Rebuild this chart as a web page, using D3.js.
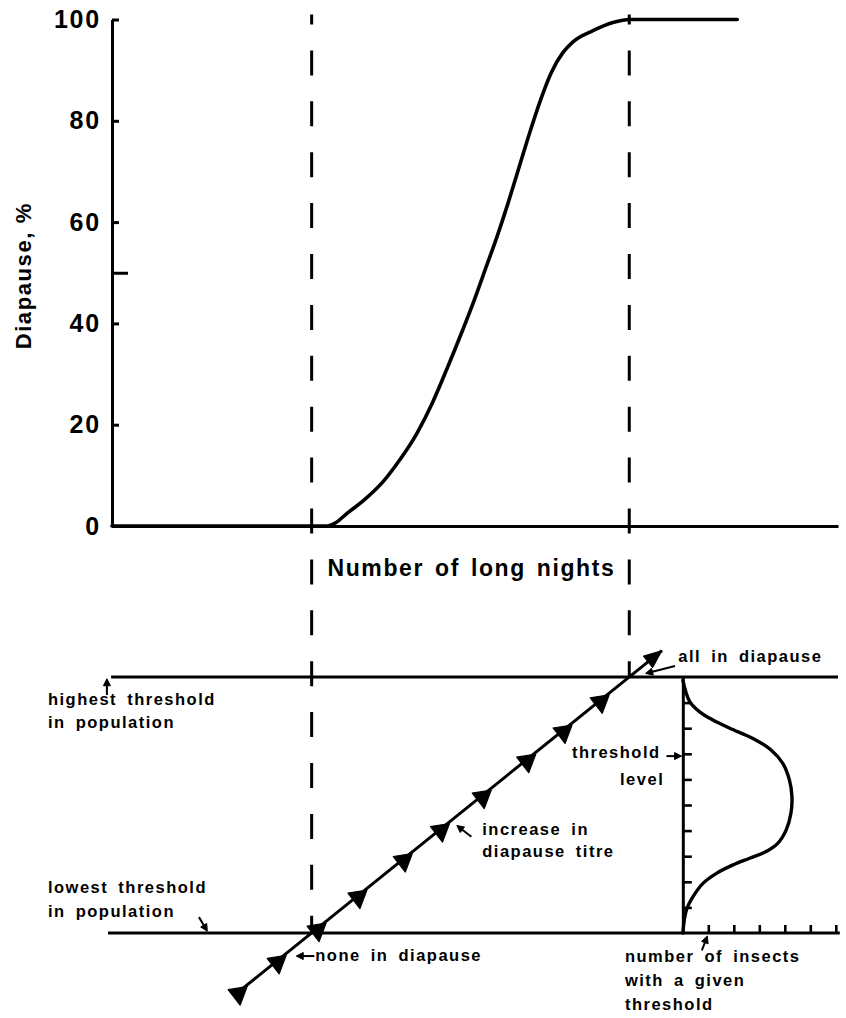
<!DOCTYPE html>
<html>
<head>
<meta charset="utf-8">
<script src="https://cdn.jsdelivr.net/npm/d3@7/dist/d3.min.js"></script>
<style>
  html, body { margin: 0; padding: 0; background: #fff; }
  svg { display: block; }
  text { font-family: "Liberation Sans", Arial, Helvetica, sans-serif; font-weight: bold; fill: #000; }
</style>
</head>
<body>
<svg id="chart" width="846" height="1018"></svg>
<script>
// ---- Upper panel: cumulative diapause response ----
const nights = [0, 11.0, 11.85, 12.3, 12.95, 13.85, 14.9, 15.6, 16.8, 17.65, 18.45, 19.3, 20.0,
                20.6, 21.2, 21.8, 22.4, 23.0, 23.6, 24.2, 24.85, 25.4, 26.5, 27.6, 28.55, 34.45];
const diapausePct = [0, 0, 0, 0.6, 2.5, 5.0, 8.6, 11.8, 18.3, 24.3, 31.0, 38.5, 45.0,
                     51.0, 57.0, 63.5, 70.5, 77.5, 84.0, 89.5, 93.5, 95.6, 97.8, 99.4, 100, 100];
const pctTicks = [0, 20, 40, 60, 80, 100];
const midTick = [50];

// nights at which the first insects enter diapause and all are in diapause
const onsetNights = 11.0;
const completeNights = 28.5;

// ---- Lower panel: diapause titre rising through the threshold distribution ----
const titreNights = [6.9, 30.3];
const titreLevel = [-2.34, 11.03];
const titreMarkNights = [6.95, 9.1, 11.3, 13.55, 16.05, 18.1, 20.4, 22.85, 24.85, 26.9];
const titreMarkLevel = [-2.31, -1.09, 0.17, 1.46, 2.89, 4.06, 5.37, 6.77, 7.91, 9.09];

// frequency distribution of thresholds in the population
const thresholdLevel = [0, 0.9, 1.42, 1.94, 2.33, 2.66, 2.92, 3.18, 3.5, 4.02, 4.68, 5.32, 5.98,
                        6.63, 7.15, 7.6, 8.0, 8.32, 8.64, 9.04, 9.88];
const insectCount = [0, 0.14, 0.40, 0.79, 1.32, 1.97, 2.62, 3.27, 3.72, 4.05, 4.24, 4.28, 4.18,
                     3.92, 3.46, 2.75, 1.84, 1.18, 0.66, 0.27, 0];
const levelTicks = [1, 2, 3, 4, 5, 6, 7, 8, 9];
const countTicks = [1, 2, 3, 4, 5, 6];
const distAxisNights = 31.45;

const svg = d3.select("#chart");

const x = d3.scaleLinear().domain([0, 40]).range([112, 838]);
const yPct = d3.scaleLinear().domain([0, 100]).range([526, 19.5]);
const yLevel = d3.scaleLinear().domain([0, 10]).range([933, 677]);
const xCount = d3.scaleLinear().domain([0, 6]).range([x(distAxisNights), x(distAxisNights) + 6 * 25.5]);

const STROKE = 3;

// ---- dashed guide lines ----
function dashed(n, yTop, yBottom) {
  svg.append("line")
    .attr("x1", x(n)).attr("x2", x(n))
    .attr("y1", yTop).attr("y2", yBottom)
    .attr("stroke", "#000").attr("stroke-width", STROKE)
    .attr("stroke-dasharray", "25 25.9")
    .attr("stroke-dashoffset", 15);
}
dashed(onsetNights, yPct(100) - 5, yLevel(0));
dashed(completeNights, yPct(100) - 5, yLevel(10));

// ---- upper axes ----
const yAxis = svg.append("g")
  .attr("transform", `translate(${x(0)},0)`)
  .call(d3.axisLeft(yPct).tickValues(pctTicks).tickSizeInner(-7).tickSizeOuter(0).tickPadding(11));
yAxis.select(".domain").attr("stroke-width", STROKE);
yAxis.selectAll(".tick line").attr("stroke-width", STROKE);
yAxis.selectAll(".tick text")
  .attr("font-size", 25).attr("letter-spacing", "1.8px")
  .attr("font-family", "Liberation Sans, Arial, sans-serif").attr("font-weight", "bold");

const midAxis = svg.append("g")
  .attr("transform", `translate(${x(0)},0)`)
  .call(d3.axisLeft(yPct).tickValues(midTick).tickSizeInner(-16).tickSizeOuter(0).tickFormat(""));
midAxis.select(".domain").remove();
midAxis.selectAll(".tick line").attr("stroke-width", STROKE);

const xAxis = svg.append("g")
  .attr("transform", `translate(0,${yPct(0)})`)
  .call(d3.axisBottom(x).tickValues([]).tickSizeOuter(0));
xAxis.select(".domain").attr("stroke-width", STROKE);

svg.append("text")
  .attr("transform", `translate(31,${(yPct(0) + yPct(100)) / 2 + 3}) rotate(-90)`)
  .attr("text-anchor", "middle")
  .attr("font-size", 22).attr("letter-spacing", "1.6px")
  .text("Diapause, %");

svg.append("text")
  .attr("x", (x(onsetNights) + x(completeNights)) / 2 + 1)
  .attr("y", 576)
  .attr("text-anchor", "middle")
  .attr("font-size", 23).attr("letter-spacing", "1.6px").attr("word-spacing", "3px")
  .text("Number of long nights");

// ---- response curve ----
const curve = d3.line()
  .x((d, i) => x(nights[i]))
  .y((d, i) => yPct(diapausePct[i]))
  .curve(d3.curveMonotoneX);
svg.append("path")
  .attr("d", curve(nights))
  .attr("fill", "none").attr("stroke", "#000")
  .attr("stroke-width", 3.6).attr("stroke-linejoin", "round").attr("stroke-linecap", "round");

// ---- lower panel threshold lines ----
svg.append("line")
  .attr("x1", x(-0.05)).attr("x2", x(40))
  .attr("y1", yLevel(10)).attr("y2", yLevel(10))
  .attr("stroke", "#000").attr("stroke-width", STROKE);
svg.append("line")
  .attr("x1", x(-0.22)).attr("x2", x(40.1))
  .attr("y1", yLevel(0)).attr("y2", yLevel(0))
  .attr("stroke", "#000").attr("stroke-width", STROKE);

// distribution axes
const levelAxis = svg.append("g")
  .attr("transform", `translate(${xCount(0)},0)`)
  .call(d3.axisRight(yLevel).tickValues(levelTicks).tickSize(9).tickSizeOuter(0).tickFormat(""));
levelAxis.select(".domain").attr("stroke-width", STROKE);
levelAxis.selectAll(".tick line").attr("stroke-width", 2.6);

const countAxis = svg.append("g")
  .attr("transform", `translate(0,${yLevel(0)})`)
  .call(d3.axisTop(xCount).tickValues(countTicks).tickSize(8).tickSizeOuter(0).tickFormat(""));
countAxis.select(".domain").remove();
countAxis.selectAll(".tick line").attr("stroke-width", 2.6);

// threshold distribution curve
const dist = d3.line()
  .x((d, i) => xCount(insectCount[i]))
  .y((d, i) => yLevel(thresholdLevel[i]))
  .curve(d3.curveCatmullRom.alpha(0.5));
svg.append("path")
  .attr("d", dist(thresholdLevel))
  .attr("fill", "none").attr("stroke", "#000")
  .attr("stroke-width", 3.4).attr("stroke-linejoin", "round").attr("stroke-linecap", "round");

// ---- titre line with direction markers ----
const tx0 = x(titreNights[0]), ty0 = yLevel(titreLevel[0]);
const tx1 = x(titreNights[1]), ty1 = yLevel(titreLevel[1]);
svg.append("line")
  .attr("x1", tx0).attr("y1", ty0).attr("x2", tx1).attr("y2", ty1)
  .attr("stroke", "#000").attr("stroke-width", STROKE);

svg.append("g").selectAll("path")
  .data(titreMarkNights)
  .join("path")
  .attr("transform", (d, i) => `translate(${x(d)},${yLevel(titreMarkLevel[i])})`)
  .attr("d", "M-10,-2.5 L9,-5.5 L2,13 Z")
  .attr("fill", "#000").attr("stroke", "#000").attr("stroke-width", 1.2).attr("stroke-linejoin", "round");

// arrowhead at the end of the titre line
function arrowHead(xt, yt, angle, len, half) {
  const c = Math.cos(angle), s = Math.sin(angle);
  const bx = xt - c * len, by = yt - s * len;
  const p = [[xt, yt], [bx - s * half, by + c * half], [bx + s * half, by - c * half]];
  svg.append("path")
    .attr("d", "M" + p.map(q => q.join(",")).join("L") + "Z")
    .attr("fill", "#000").attr("stroke", "#000").attr("stroke-width", 1).attr("stroke-linejoin", "round");
}
arrowHead(tx1, ty1, Math.atan2(ty1 - ty0, tx1 - tx0), 18, 7.5);

// ---- annotations ----
function label(n, lvl, lines, lineGap) {
  const t = svg.append("text")
    .attr("x", x(n)).attr("y", yLevel(lvl))
    .attr("font-size", 16.5).attr("letter-spacing", "1.5px").attr("word-spacing", "4px");
  lines.forEach((s, i) => {
    t.append("tspan").attr("x", x(n)).attr("dy", i === 0 ? 0 : lineGap).text(s);
  });
}
function pointer(n0, l0, n1, l1) {
  const xa = x(n0), ya = yLevel(l0), xb = x(n1), yb = yLevel(l1);
  const ang = Math.atan2(yb - ya, xb - xa);
  svg.append("line")
    .attr("x1", xa).attr("y1", ya)
    .attr("x2", xb - Math.cos(ang) * 4).attr("y2", yb - Math.sin(ang) * 4)
    .attr("stroke", "#000").attr("stroke-width", 2);
  arrowHead(xb, yb, ang, 7, 3.5);
}

label(-3.53, 8.9, ["highest threshold", "in population"], 23);
pointer(-0.28, 9.3, -0.28, 9.93);

label(-3.53, 1.56, ["lowest threshold", "in population"], 24);
pointer(4.79, 0.62, 5.25, 0.07);

label(11.2, -1.09, ["none in diapause"], 0);
pointer(11.15, -0.9, 10.15, -0.9);

label(20.4, 3.83, ["increase in", "diapause titre"], 22);
pointer(19.8, 3.76, 19.0, 4.2);

label(25.34, 6.84, ["threshold"], 0);
label(27.99, 5.78, ["level"], 0);
pointer(30.55, 6.91, 31.38, 6.91);

label(31.2, 10.59, ["all in diapause"], 0);
pointer(31.02, 10.43, 29.4, 10.14);

label(28.26, -1.13, ["number of insects", "with a given", "threshold"], 24);
pointer(32.5, -0.68, 32.8, -0.12);
</script>
</body>
</html>
